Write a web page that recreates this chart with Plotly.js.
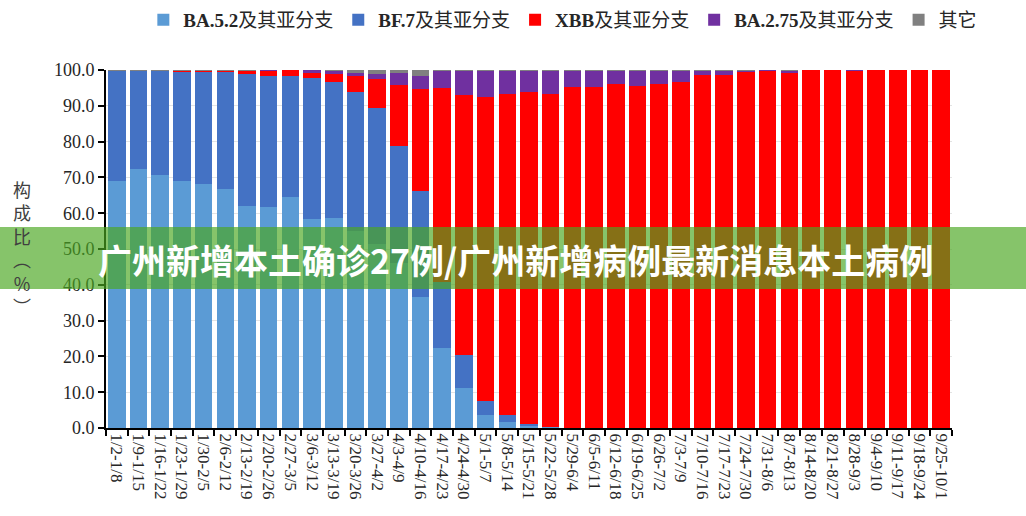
<!DOCTYPE html>
<html>
<head>
<meta charset="utf-8">
<script src="https://cdn.plot.ly/plotly-3.0.1.min.js"></script>
<style>
  html, body { margin: 0; padding: 0; background: #ffffff; }
  #chart { width: 1026px; height: 516px; }
</style>
</head>
<body>
<div id="chart"></div>
<script>
// Weekly share (%) of each lineage among local cases
const weeks = [
  '1/2-1/8', '1/9-1/15', '1/16-1/22', '1/23-1/29', '1/30-2/5', '2/6-2/12',
  '2/13-2/19', '2/20-2/26', '2/27-3/5', '3/6-3/12', '3/13-3/19', '3/20-3/26',
  '3/27-4/2', '4/3-4/9', '4/10-4/16', '4/17-4/23', '4/24-4/30', '5/1-5/7',
  '5/8-5/14', '5/15-5/21', '5/22-5/28', '5/29-6/4', '6/5-6/11', '6/12-6/18',
  '6/19-6/25', '6/26-7/2', '7/3-7/9', '7/10-7/16', '7/17-7/23', '7/24-7/30',
  '7/31-8/6', '8/7-8/13', '8/14-8/20', '8/21-8/27', '8/28-9/3', '9/4-9/10',
  '9/11-9/17', '9/18-9/24', '9/25-10/1'
];

const ba52 = [69.0, 72.3, 70.7, 69.1, 68.2, 66.8, 62.1, 61.8, 64.6, 58.4, 58.7, 55.0,
  51.5, 46.0, 36.6, 22.3, 11.1, 3.6, 1.8, 0.6, 0.2, 0, 0, 0, 0, 0, 0, 0, 0, 0,
  0, 0, 0, 0, 0, 0, 0, 0, 0];

const bf7 = [30.7, 27.5, 29.1, 30.4, 31.3, 32.7, 36.8, 36.5, 33.6, 39.3, 38.0, 38.9,
  38.0, 32.8, 29.7, 18.6, 9.3, 3.9, 1.8, 0.5, 0.2, 0, 0, 0, 0, 0, 0, 0, 0, 0,
  0, 0, 0, 0, 0, 0, 0, 0, 0];

const xbb = [0, 0, 0, 0.1, 0.1, 0.2, 0.7, 1.5, 1.8, 1.5, 2.3, 4.3,
  8.0, 17.0, 28.3, 54.0, 72.6, 84.9, 89.7, 92.8, 92.9, 95.2, 95.2, 96.0,
  95.4, 96.0, 96.7, 98.6, 98.7, 99.4, 99.7, 99.3, 99.9, 99.9, 99.8, 99.9,
  100, 100, 100];

const ba275 = [0.1, 0, 0, 0.2, 0.2, 0.1, 0.2, 0.1, 0, 0.8, 0.7, 0.9,
  1.4, 3.3, 3.7, 4.9, 6.8, 7.4, 6.5, 5.9, 6.5, 4.6, 4.6, 3.8,
  4.4, 3.8, 3.1, 1.2, 1.1, 0.4, 0.2, 0.5, 0.1, 0.1, 0.2, 0.1,
  0, 0, 0];

const other = [0.2, 0.2, 0.2, 0.2, 0.2, 0.2, 0.2, 0.1, 0, 0, 0.3, 0.9,
  1.1, 0.9, 1.7, 0.2, 0.2, 0.2, 0.2, 0.2, 0.2, 0.2, 0.2, 0.2,
  0.2, 0.2, 0.2, 0.2, 0.2, 0.2, 0.1, 0.2, 0, 0, 0, 0,
  0, 0, 0];

const seriesNames = ['<b>BA.5.2</b>及其亚分支', '<b>BF.7</b>及其亚分支', '<b>XBB</b>及其亚分支',
  '<b>BA.2.75</b>及其亚分支', '其它'];
const seriesValues = [ba52, bf7, xbb, ba275, other];
const seriesColors = ['#5B9BD5', '#4472C4', '#FF0000', '#7030A0', '#808080'];

const bannerText = '广州新增本土确诊27例/广州新增病例最新消息本土病例';

const serif = '"Liberation Serif", "Times New Roman", "Noto Sans CJK SC", serif';

const traces = seriesValues.map((vals, i) => ({
  type: 'bar',
  name: seriesNames[i],
  x: weeks,
  y: vals,
  marker: { color: seriesColors[i], line: { width: 0 } },
  hoverinfo: 'skip'
}));

const layout = {
  width: 1026,
  height: 516,
  margin: { l: 106, r: 74, t: 70, b: 88, autoexpand: false },
  paper_bgcolor: '#ffffff',
  plot_bgcolor: '#ffffff',
  barmode: 'stack',
  bargap: 0.19,
  showlegend: true,
  legend: {
    orientation: 'h',
    x: 0.54, xanchor: 'center',
    y: 1.14, yanchor: 'middle',
    traceorder: 'normal',
    font: { family: serif, size: 19, color: '#262626' },
    itemwidth: 30
  },
  xaxis: {
    type: 'category',
    tickmode: 'linear', tick0: 0, dtick: 1,
    tickangle: 90,
    tickson: 'boundaries',
    ticks: 'outside', ticklen: 6, tickwidth: 2, tickcolor: '#000000',
    showline: true, linecolor: '#000000', linewidth: 2,
    showgrid: false,
    tickfont: { family: serif, size: 17, color: '#262626' },
    fixedrange: true
  },
  yaxis: {
    range: [0, 100],
    tickmode: 'linear', tick0: 0, dtick: 10,
    tickformat: '.1f',
    ticks: 'outside', ticklen: 6, tickwidth: 2, tickcolor: '#000000',
    showline: true, linecolor: '#000000', linewidth: 2,
    showgrid: true, gridcolor: '#e4e4e4', gridwidth: 1,
    zeroline: false,
    tickfont: { family: serif, size: 18, color: '#262626' },
    fixedrange: true
  },
  shapes: [{
    type: 'rect', layer: 'above',
    xref: 'paper', yref: 'paper',
    x0: -0.1253, x1: 1.0875, y0: 0.3883, y1: 0.5615,
    fillcolor: 'rgba(75,167,33,0.67)',
    line: { width: 0 }
  }],
  annotations: [
    {
      xref: 'paper', yref: 'paper',
      x: -0.0993, y: 0.505, xanchor: 'center', yanchor: 'middle',
      text: '构<br>成<br>比<br>︵<br>%<br>︶',
      showarrow: false,
      font: { family: '"Noto Sans CJK SC", sans-serif', size: 18, color: '#404040' }
    },
    {
      xref: 'paper', yref: 'paper',
      x: 0.4835, y: 0.472, xanchor: 'center', yanchor: 'middle',
      text: '<b>' + bannerText + '</b>',
      showarrow: false,
      font: { family: '"Noto Sans CJK SC", sans-serif', size: 34, color: '#ffffff' }
    }
  ]
};

Plotly.newPlot('chart', traces, layout, { staticPlot: true, displayModeBar: false });
</script>
</body>
</html>
